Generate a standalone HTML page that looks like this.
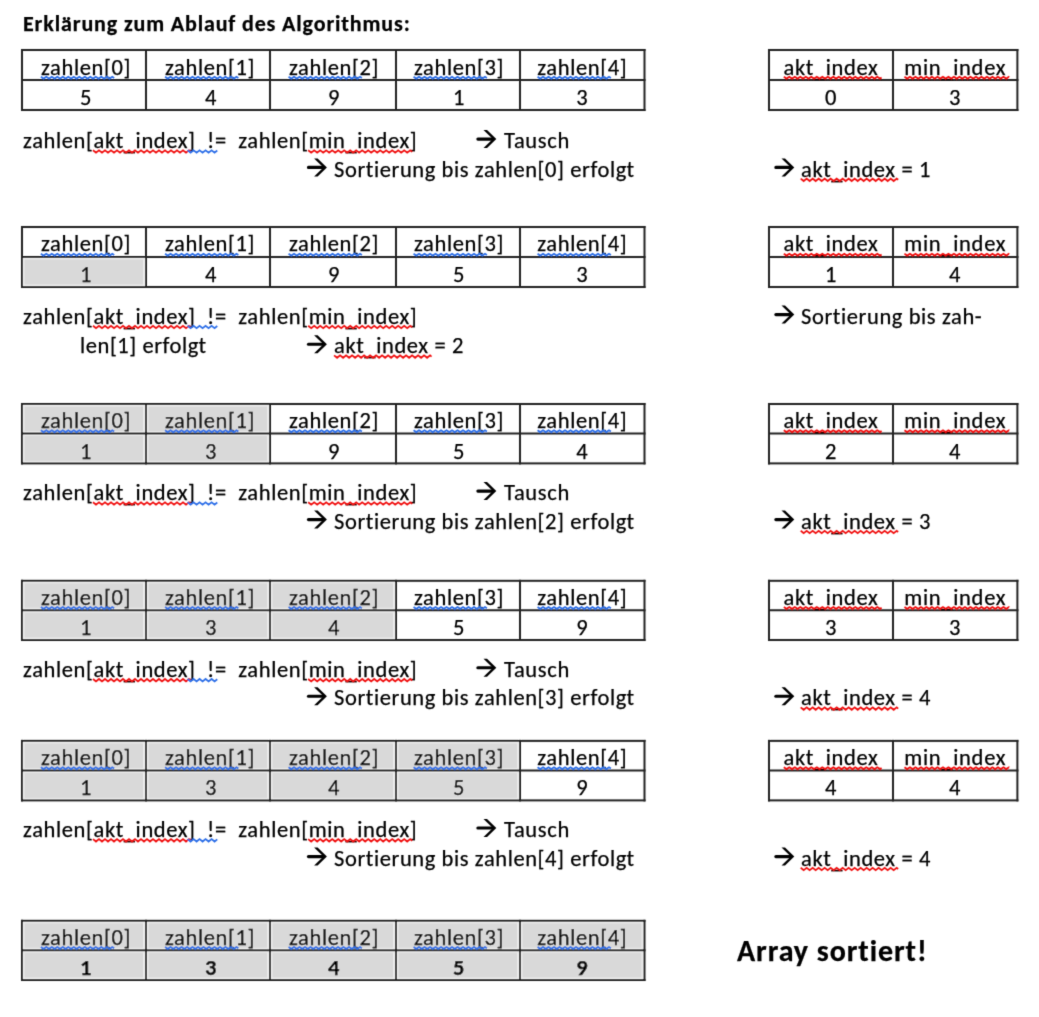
<!DOCTYPE html>
<html><head><meta charset="utf-8"><title>Erklärung zum Ablauf des Algorithmus</title>
<style>
html,body{margin:0;padding:0;background:#fff;}
body{width:1039px;height:1017px;position:relative;overflow:hidden;font-family:"Carlito", "Liberation Sans", sans-serif;font-size:22.5px;color:#000;font-variant-ligatures:none;font-feature-settings:"liga" 0,"clig" 0;}
.t{position:absolute;white-space:pre;line-height:29px;will-change:transform;-webkit-text-stroke:0.25px #000;}
.u{position:relative;top:2px;}
svg{position:absolute;left:0;top:0;}
#pg{position:absolute;left:0;top:0;width:1039px;height:1017px;filter:url(#soft);}
</style></head><body><svg width="0" height="0" style="position:absolute"><filter id="soft" x="0" y="0" width="100%" height="100%"><feConvolveMatrix order="3" kernelMatrix="0.01440 0.09120 0.01440 0.09120 0.57760 0.09120 0.01440 0.09120 0.01440" divisor="1" edgeMode="none"/></filter></svg><div id="pg">
<svg width="1039" height="1017" viewBox="0 0 1039 1017">
<rect x="21.00" y="49.00" width="2.00" height="62.00" fill="#222"/>
<rect x="145.00" y="49.00" width="2.00" height="62.00" fill="#222"/>
<rect x="269.00" y="49.00" width="2.00" height="62.00" fill="#222"/>
<rect x="395.00" y="49.00" width="2.00" height="62.00" fill="#222"/>
<rect x="519.00" y="49.00" width="2.00" height="62.00" fill="#222"/>
<rect x="643.50" y="49.00" width="2.00" height="62.00" fill="#222"/>
<rect x="21.00" y="49.00" width="624.50" height="2.00" fill="#222"/>
<rect x="21.00" y="79.00" width="624.50" height="2.00" fill="#222"/>
<rect x="21.00" y="109.00" width="624.50" height="2.00" fill="#222"/>
<rect x="768.00" y="49.00" width="2.00" height="62.00" fill="#222"/>
<rect x="892.00" y="49.00" width="2.00" height="62.00" fill="#222"/>
<rect x="1016.40" y="49.00" width="2.00" height="62.00" fill="#222"/>
<rect x="768.00" y="49.00" width="250.40" height="2.00" fill="#222"/>
<rect x="768.00" y="79.00" width="250.40" height="2.00" fill="#222"/>
<rect x="768.00" y="109.00" width="250.40" height="2.00" fill="#222"/>
<rect x="23.00" y="258.00" width="122.00" height="28.00" fill="#ebebeb"/>
<rect x="24.50" y="259.50" width="118.50" height="25.00" fill="#d9d9d9"/>
<rect x="21.00" y="226.00" width="2.00" height="62.00" fill="#222"/>
<rect x="145.00" y="226.00" width="2.00" height="62.00" fill="#222"/>
<rect x="269.00" y="226.00" width="2.00" height="62.00" fill="#222"/>
<rect x="395.00" y="226.00" width="2.00" height="62.00" fill="#222"/>
<rect x="519.00" y="226.00" width="2.00" height="62.00" fill="#222"/>
<rect x="643.50" y="226.00" width="2.00" height="62.00" fill="#222"/>
<rect x="21.00" y="226.00" width="624.50" height="2.00" fill="#222"/>
<rect x="21.00" y="256.00" width="624.50" height="2.00" fill="#222"/>
<rect x="21.00" y="286.00" width="624.50" height="2.00" fill="#222"/>
<rect x="768.00" y="226.00" width="2.00" height="62.00" fill="#222"/>
<rect x="892.00" y="226.00" width="2.00" height="62.00" fill="#222"/>
<rect x="1016.40" y="226.00" width="2.00" height="62.00" fill="#222"/>
<rect x="768.00" y="226.00" width="250.40" height="2.00" fill="#222"/>
<rect x="768.00" y="256.00" width="250.40" height="2.00" fill="#222"/>
<rect x="768.00" y="286.00" width="250.40" height="2.00" fill="#222"/>
<rect x="23.00" y="405.00" width="122.00" height="27.50" fill="#ebebeb"/>
<rect x="24.50" y="406.50" width="118.50" height="24.50" fill="#d9d9d9"/>
<rect x="147.00" y="405.00" width="122.00" height="27.50" fill="#ebebeb"/>
<rect x="148.50" y="406.50" width="118.50" height="24.50" fill="#d9d9d9"/>
<rect x="23.00" y="434.50" width="122.00" height="27.90" fill="#ebebeb"/>
<rect x="24.50" y="436.00" width="118.50" height="24.90" fill="#d9d9d9"/>
<rect x="147.00" y="434.50" width="122.00" height="27.90" fill="#ebebeb"/>
<rect x="148.50" y="436.00" width="118.50" height="24.90" fill="#d9d9d9"/>
<rect x="21.00" y="403.00" width="2.00" height="61.40" fill="#222"/>
<rect x="145.00" y="403.00" width="2.00" height="61.40" fill="#222"/>
<rect x="269.00" y="403.00" width="2.00" height="61.40" fill="#222"/>
<rect x="395.00" y="403.00" width="2.00" height="61.40" fill="#222"/>
<rect x="519.00" y="403.00" width="2.00" height="61.40" fill="#222"/>
<rect x="643.50" y="403.00" width="2.00" height="61.40" fill="#222"/>
<rect x="21.00" y="403.00" width="624.50" height="2.00" fill="#222"/>
<rect x="21.00" y="432.50" width="624.50" height="2.00" fill="#222"/>
<rect x="21.00" y="462.40" width="624.50" height="2.00" fill="#222"/>
<rect x="768.00" y="403.00" width="2.00" height="61.40" fill="#222"/>
<rect x="892.00" y="403.00" width="2.00" height="61.40" fill="#222"/>
<rect x="1016.40" y="403.00" width="2.00" height="61.40" fill="#222"/>
<rect x="768.00" y="403.00" width="250.40" height="2.00" fill="#222"/>
<rect x="768.00" y="432.50" width="250.40" height="2.00" fill="#222"/>
<rect x="768.00" y="462.40" width="250.40" height="2.00" fill="#222"/>
<rect x="23.00" y="581.80" width="122.00" height="27.45" fill="#ebebeb"/>
<rect x="24.50" y="583.30" width="118.50" height="24.45" fill="#d9d9d9"/>
<rect x="147.00" y="581.80" width="122.00" height="27.45" fill="#ebebeb"/>
<rect x="148.50" y="583.30" width="118.50" height="24.45" fill="#d9d9d9"/>
<rect x="271.00" y="581.80" width="124.00" height="27.45" fill="#ebebeb"/>
<rect x="272.50" y="583.30" width="120.50" height="24.45" fill="#d9d9d9"/>
<rect x="23.00" y="611.25" width="122.00" height="27.75" fill="#ebebeb"/>
<rect x="24.50" y="612.75" width="118.50" height="24.75" fill="#d9d9d9"/>
<rect x="147.00" y="611.25" width="122.00" height="27.75" fill="#ebebeb"/>
<rect x="148.50" y="612.75" width="118.50" height="24.75" fill="#d9d9d9"/>
<rect x="271.00" y="611.25" width="124.00" height="27.75" fill="#ebebeb"/>
<rect x="272.50" y="612.75" width="120.50" height="24.75" fill="#d9d9d9"/>
<rect x="21.00" y="579.80" width="2.00" height="61.20" fill="#222"/>
<rect x="145.00" y="579.80" width="2.00" height="61.20" fill="#222"/>
<rect x="269.00" y="579.80" width="2.00" height="61.20" fill="#222"/>
<rect x="395.00" y="579.80" width="2.00" height="61.20" fill="#222"/>
<rect x="519.00" y="579.80" width="2.00" height="61.20" fill="#222"/>
<rect x="643.50" y="579.80" width="2.00" height="61.20" fill="#222"/>
<rect x="21.00" y="579.80" width="624.50" height="2.00" fill="#222"/>
<rect x="21.00" y="609.25" width="624.50" height="2.00" fill="#222"/>
<rect x="21.00" y="639.00" width="624.50" height="2.00" fill="#222"/>
<rect x="768.00" y="579.80" width="2.00" height="61.20" fill="#222"/>
<rect x="892.00" y="579.80" width="2.00" height="61.20" fill="#222"/>
<rect x="1016.40" y="579.80" width="2.00" height="61.20" fill="#222"/>
<rect x="768.00" y="579.80" width="250.40" height="2.00" fill="#222"/>
<rect x="768.00" y="609.25" width="250.40" height="2.00" fill="#222"/>
<rect x="768.00" y="639.00" width="250.40" height="2.00" fill="#222"/>
<rect x="23.00" y="741.90" width="122.00" height="27.60" fill="#ebebeb"/>
<rect x="24.50" y="743.40" width="118.50" height="24.60" fill="#d9d9d9"/>
<rect x="147.00" y="741.90" width="122.00" height="27.60" fill="#ebebeb"/>
<rect x="148.50" y="743.40" width="118.50" height="24.60" fill="#d9d9d9"/>
<rect x="271.00" y="741.90" width="124.00" height="27.60" fill="#ebebeb"/>
<rect x="272.50" y="743.40" width="120.50" height="24.60" fill="#d9d9d9"/>
<rect x="397.00" y="741.90" width="122.00" height="27.60" fill="#ebebeb"/>
<rect x="398.50" y="743.40" width="118.50" height="24.60" fill="#d9d9d9"/>
<rect x="23.00" y="771.50" width="122.00" height="27.90" fill="#ebebeb"/>
<rect x="24.50" y="773.00" width="118.50" height="24.90" fill="#d9d9d9"/>
<rect x="147.00" y="771.50" width="122.00" height="27.90" fill="#ebebeb"/>
<rect x="148.50" y="773.00" width="118.50" height="24.90" fill="#d9d9d9"/>
<rect x="271.00" y="771.50" width="124.00" height="27.90" fill="#ebebeb"/>
<rect x="272.50" y="773.00" width="120.50" height="24.90" fill="#d9d9d9"/>
<rect x="397.00" y="771.50" width="122.00" height="27.90" fill="#ebebeb"/>
<rect x="398.50" y="773.00" width="118.50" height="24.90" fill="#d9d9d9"/>
<rect x="21.00" y="739.90" width="2.00" height="61.50" fill="#222"/>
<rect x="145.00" y="739.90" width="2.00" height="61.50" fill="#222"/>
<rect x="269.00" y="739.90" width="2.00" height="61.50" fill="#222"/>
<rect x="395.00" y="739.90" width="2.00" height="61.50" fill="#222"/>
<rect x="519.00" y="739.90" width="2.00" height="61.50" fill="#222"/>
<rect x="643.50" y="739.90" width="2.00" height="61.50" fill="#222"/>
<rect x="21.00" y="739.90" width="624.50" height="2.00" fill="#222"/>
<rect x="21.00" y="769.50" width="624.50" height="2.00" fill="#222"/>
<rect x="21.00" y="799.40" width="624.50" height="2.00" fill="#222"/>
<rect x="768.00" y="739.90" width="2.00" height="61.50" fill="#222"/>
<rect x="892.00" y="739.90" width="2.00" height="61.50" fill="#222"/>
<rect x="1016.40" y="739.90" width="2.00" height="61.50" fill="#222"/>
<rect x="768.00" y="739.90" width="250.40" height="2.00" fill="#222"/>
<rect x="768.00" y="769.50" width="250.40" height="2.00" fill="#222"/>
<rect x="768.00" y="799.40" width="250.40" height="2.00" fill="#222"/>
<rect x="23.00" y="921.80" width="122.00" height="27.45" fill="#ebebeb"/>
<rect x="24.50" y="923.30" width="118.50" height="24.45" fill="#d9d9d9"/>
<rect x="147.00" y="921.80" width="122.00" height="27.45" fill="#ebebeb"/>
<rect x="148.50" y="923.30" width="118.50" height="24.45" fill="#d9d9d9"/>
<rect x="271.00" y="921.80" width="124.00" height="27.45" fill="#ebebeb"/>
<rect x="272.50" y="923.30" width="120.50" height="24.45" fill="#d9d9d9"/>
<rect x="397.00" y="921.80" width="122.00" height="27.45" fill="#ebebeb"/>
<rect x="398.50" y="923.30" width="118.50" height="24.45" fill="#d9d9d9"/>
<rect x="521.00" y="921.80" width="122.50" height="27.45" fill="#ebebeb"/>
<rect x="522.50" y="923.30" width="119.00" height="24.45" fill="#d9d9d9"/>
<rect x="23.00" y="951.25" width="122.00" height="27.75" fill="#ebebeb"/>
<rect x="24.50" y="952.75" width="118.50" height="24.75" fill="#d9d9d9"/>
<rect x="147.00" y="951.25" width="122.00" height="27.75" fill="#ebebeb"/>
<rect x="148.50" y="952.75" width="118.50" height="24.75" fill="#d9d9d9"/>
<rect x="271.00" y="951.25" width="124.00" height="27.75" fill="#ebebeb"/>
<rect x="272.50" y="952.75" width="120.50" height="24.75" fill="#d9d9d9"/>
<rect x="397.00" y="951.25" width="122.00" height="27.75" fill="#ebebeb"/>
<rect x="398.50" y="952.75" width="118.50" height="24.75" fill="#d9d9d9"/>
<rect x="521.00" y="951.25" width="122.50" height="27.75" fill="#ebebeb"/>
<rect x="522.50" y="952.75" width="119.00" height="24.75" fill="#d9d9d9"/>
<rect x="21.00" y="919.80" width="2.00" height="61.20" fill="#222"/>
<rect x="145.00" y="919.80" width="2.00" height="61.20" fill="#222"/>
<rect x="269.00" y="919.80" width="2.00" height="61.20" fill="#222"/>
<rect x="395.00" y="919.80" width="2.00" height="61.20" fill="#222"/>
<rect x="519.00" y="919.80" width="2.00" height="61.20" fill="#222"/>
<rect x="643.50" y="919.80" width="2.00" height="61.20" fill="#222"/>
<rect x="21.00" y="919.80" width="624.50" height="2.00" fill="#222"/>
<rect x="21.00" y="949.25" width="624.50" height="2.00" fill="#222"/>
<rect x="21.00" y="979.00" width="624.50" height="2.00" fill="#222"/>
<path d="M477.85 137.55 H493.30 V140.65 H477.85 A1.55 1.55 0 0 1 477.85 137.55 Z" fill="#000"/>
<polygon points="483.50,130.10 487.00,130.10 496.30,139.10 487.00,148.10 483.50,148.10 492.80,139.10" fill="#000"/>
<path d="M308.45 165.85 H323.90 V168.95 H308.45 A1.55 1.55 0 0 1 308.45 165.85 Z" fill="#000"/>
<polygon points="314.10,158.40 317.60,158.40 326.90,167.40 317.60,176.40 314.10,176.40 323.40,167.40" fill="#000"/>
<path d="M775.85 165.85 H791.30 V168.95 H775.85 A1.55 1.55 0 0 1 775.85 165.85 Z" fill="#000"/>
<polygon points="781.50,158.40 785.00,158.40 794.30,167.40 785.00,176.40 781.50,176.40 790.80,167.40" fill="#000"/>
<path d="M775.85 313.05 H791.30 V316.15 H775.85 A1.55 1.55 0 0 1 775.85 313.05 Z" fill="#000"/>
<polygon points="781.50,305.60 785.00,305.60 794.30,314.60 785.00,323.60 781.50,323.60 790.80,314.60" fill="#000"/>
<path d="M308.45 342.65 H323.90 V345.75 H308.45 A1.55 1.55 0 0 1 308.45 342.65 Z" fill="#000"/>
<polygon points="314.10,335.20 317.60,335.20 326.90,344.20 317.60,353.20 314.10,353.20 323.40,344.20" fill="#000"/>
<path d="M477.85 489.55 H493.30 V492.65 H477.85 A1.55 1.55 0 0 1 477.85 489.55 Z" fill="#000"/>
<polygon points="483.50,482.10 487.00,482.10 496.30,491.10 487.00,500.10 483.50,500.10 492.80,491.10" fill="#000"/>
<path d="M308.45 518.05 H323.90 V521.15 H308.45 A1.55 1.55 0 0 1 308.45 518.05 Z" fill="#000"/>
<polygon points="314.10,510.60 317.60,510.60 326.90,519.60 317.60,528.60 314.10,528.60 323.40,519.60" fill="#000"/>
<path d="M775.85 518.05 H791.30 V521.15 H775.85 A1.55 1.55 0 0 1 775.85 518.05 Z" fill="#000"/>
<polygon points="781.50,510.60 785.00,510.60 794.30,519.60 785.00,528.60 781.50,528.60 790.80,519.60" fill="#000"/>
<path d="M477.85 666.25 H493.30 V669.35 H477.85 A1.55 1.55 0 0 1 477.85 666.25 Z" fill="#000"/>
<polygon points="483.50,658.80 487.00,658.80 496.30,667.80 487.00,676.80 483.50,676.80 492.80,667.80" fill="#000"/>
<path d="M308.45 694.65 H323.90 V697.75 H308.45 A1.55 1.55 0 0 1 308.45 694.65 Z" fill="#000"/>
<polygon points="314.10,687.20 317.60,687.20 326.90,696.20 317.60,705.20 314.10,705.20 323.40,696.20" fill="#000"/>
<path d="M775.85 694.65 H791.30 V697.75 H775.85 A1.55 1.55 0 0 1 775.85 694.65 Z" fill="#000"/>
<polygon points="781.50,687.20 785.00,687.20 794.30,696.20 785.00,705.20 781.50,705.20 790.80,696.20" fill="#000"/>
<path d="M477.85 826.40 H493.30 V829.50 H477.85 A1.55 1.55 0 0 1 477.85 826.40 Z" fill="#000"/>
<polygon points="483.50,818.95 487.00,818.95 496.30,827.95 487.00,836.95 483.50,836.95 492.80,827.95" fill="#000"/>
<path d="M308.45 855.05 H323.90 V858.15 H308.45 A1.55 1.55 0 0 1 308.45 855.05 Z" fill="#000"/>
<polygon points="314.10,847.60 317.60,847.60 326.90,856.60 317.60,865.60 314.10,865.60 323.40,856.60" fill="#000"/>
<path d="M775.85 855.05 H791.30 V858.15 H775.85 A1.55 1.55 0 0 1 775.85 855.05 Z" fill="#000"/>
<polygon points="781.50,847.60 785.00,847.60 794.30,856.60 785.00,865.60 781.50,865.60 790.80,856.60" fill="#000"/>
</svg>
<div class="t" style="left:23.00px;top:9.00px;font-size:22px;line-height:29px;font-weight:bold;letter-spacing:0.873px;--w:387.58;">Erklärung zum Ablauf des Algorithmus:</div>
<div class="t" style="left:23.90px;top:53.00px;width:124.00px;text-align:center;letter-spacing:0.625px;--w:90.14;"><span class="sqh b">zahlen[</span>0]</div>
<div class="t" style="left:24.10px;top:83.00px;width:124.00px;text-align:center;letter-spacing:0.766px;--w:12.17;">5</div>
<div class="t" style="left:148.10px;top:53.00px;width:124.00px;text-align:center;letter-spacing:0.625px;--w:90.14;"><span class="sqh b">zahlen[</span>1]</div>
<div class="t" style="left:148.50px;top:83.00px;width:124.00px;text-align:center;letter-spacing:0.766px;--w:12.17;">4</div>
<div class="t" style="left:270.60px;top:53.00px;width:126.00px;text-align:center;letter-spacing:0.625px;--w:90.14;"><span class="sqh b">zahlen[</span>2]</div>
<div class="t" style="left:270.60px;top:83.00px;width:126.00px;text-align:center;letter-spacing:0.766px;--w:12.17;">9</div>
<div class="t" style="left:396.60px;top:53.00px;width:124.00px;text-align:center;letter-spacing:0.625px;--w:90.14;"><span class="sqh b">zahlen[</span>3]</div>
<div class="t" style="left:396.80px;top:83.00px;width:124.00px;text-align:center;letter-spacing:0.766px;--w:12.17;">1</div>
<div class="t" style="left:520.35px;top:53.00px;width:124.50px;text-align:center;letter-spacing:0.625px;--w:90.14;"><span class="sqh b">zahlen[</span>4]</div>
<div class="t" style="left:519.95px;top:83.00px;width:124.50px;text-align:center;letter-spacing:0.766px;--w:12.17;">3</div>
<div class="t" style="left:769.30px;top:53.00px;width:124.00px;text-align:center;letter-spacing:0.658px;--w:94.98;"><span class="sqh r">akt<span class=u>_</span>index</span></div>
<div class="t" style="left:769.30px;top:83.00px;width:124.00px;text-align:center;letter-spacing:0.766px;--w:12.17;">0</div>
<div class="t" style="left:893.25px;top:53.00px;width:124.40px;text-align:center;letter-spacing:0.707px;--w:101.95;"><span class="sqh r">min<span class=u>_</span>index</span></div>
<div class="t" style="left:893.25px;top:83.00px;width:124.40px;text-align:center;letter-spacing:0.766px;--w:12.17;">3</div>
<div class="t" style="left:23.90px;top:229.00px;width:124.00px;text-align:center;letter-spacing:0.625px;--w:90.14;"><span class="sqh b">zahlen[</span>0]</div>
<div class="t" style="left:24.10px;top:260.00px;width:124.00px;text-align:center;letter-spacing:0.766px;--w:12.17;">1</div>
<div class="t" style="left:148.10px;top:229.00px;width:124.00px;text-align:center;letter-spacing:0.625px;--w:90.14;"><span class="sqh b">zahlen[</span>1]</div>
<div class="t" style="left:148.50px;top:260.00px;width:124.00px;text-align:center;letter-spacing:0.766px;--w:12.17;">4</div>
<div class="t" style="left:270.60px;top:229.00px;width:126.00px;text-align:center;letter-spacing:0.625px;--w:90.14;"><span class="sqh b">zahlen[</span>2]</div>
<div class="t" style="left:270.60px;top:260.00px;width:126.00px;text-align:center;letter-spacing:0.766px;--w:12.17;">9</div>
<div class="t" style="left:396.60px;top:229.00px;width:124.00px;text-align:center;letter-spacing:0.625px;--w:90.14;"><span class="sqh b">zahlen[</span>3]</div>
<div class="t" style="left:396.80px;top:260.00px;width:124.00px;text-align:center;letter-spacing:0.766px;--w:12.17;">5</div>
<div class="t" style="left:520.35px;top:229.00px;width:124.50px;text-align:center;letter-spacing:0.625px;--w:90.14;"><span class="sqh b">zahlen[</span>4]</div>
<div class="t" style="left:519.95px;top:260.00px;width:124.50px;text-align:center;letter-spacing:0.766px;--w:12.17;">3</div>
<div class="t" style="left:769.30px;top:229.00px;width:124.00px;text-align:center;letter-spacing:0.658px;--w:94.98;"><span class="sqh r">akt<span class=u>_</span>index</span></div>
<div class="t" style="left:769.30px;top:260.00px;width:124.00px;text-align:center;letter-spacing:0.766px;--w:12.17;">1</div>
<div class="t" style="left:893.25px;top:229.00px;width:124.40px;text-align:center;letter-spacing:0.707px;--w:101.95;"><span class="sqh r">min<span class=u>_</span>index</span></div>
<div class="t" style="left:893.25px;top:260.00px;width:124.40px;text-align:center;letter-spacing:0.766px;--w:12.17;">4</div>
<div class="t" style="left:23.90px;top:406.00px;width:124.00px;text-align:center;letter-spacing:0.625px;--w:90.14;"><span class="sqh b">zahlen[</span>0]</div>
<div class="t" style="left:24.10px;top:437.00px;width:124.00px;text-align:center;letter-spacing:0.766px;--w:12.17;">1</div>
<div class="t" style="left:148.10px;top:406.00px;width:124.00px;text-align:center;letter-spacing:0.625px;--w:90.14;"><span class="sqh b">zahlen[</span>1]</div>
<div class="t" style="left:148.50px;top:437.00px;width:124.00px;text-align:center;letter-spacing:0.766px;--w:12.17;">3</div>
<div class="t" style="left:270.60px;top:406.00px;width:126.00px;text-align:center;letter-spacing:0.625px;--w:90.14;"><span class="sqh b">zahlen[</span>2]</div>
<div class="t" style="left:270.60px;top:437.00px;width:126.00px;text-align:center;letter-spacing:0.766px;--w:12.17;">9</div>
<div class="t" style="left:396.60px;top:406.00px;width:124.00px;text-align:center;letter-spacing:0.625px;--w:90.14;"><span class="sqh b">zahlen[</span>3]</div>
<div class="t" style="left:396.80px;top:437.00px;width:124.00px;text-align:center;letter-spacing:0.766px;--w:12.17;">5</div>
<div class="t" style="left:520.35px;top:406.00px;width:124.50px;text-align:center;letter-spacing:0.625px;--w:90.14;"><span class="sqh b">zahlen[</span>4]</div>
<div class="t" style="left:519.95px;top:437.00px;width:124.50px;text-align:center;letter-spacing:0.766px;--w:12.17;">4</div>
<div class="t" style="left:769.30px;top:406.00px;width:124.00px;text-align:center;letter-spacing:0.658px;--w:94.98;"><span class="sqh r">akt<span class=u>_</span>index</span></div>
<div class="t" style="left:769.30px;top:437.00px;width:124.00px;text-align:center;letter-spacing:0.766px;--w:12.17;">2</div>
<div class="t" style="left:893.25px;top:406.00px;width:124.40px;text-align:center;letter-spacing:0.707px;--w:101.95;"><span class="sqh r">min<span class=u>_</span>index</span></div>
<div class="t" style="left:893.25px;top:437.00px;width:124.40px;text-align:center;letter-spacing:0.766px;--w:12.17;">4</div>
<div class="t" style="left:23.90px;top:583.00px;width:124.00px;text-align:center;letter-spacing:0.625px;--w:90.14;"><span class="sqh b">zahlen[</span>0]</div>
<div class="t" style="left:24.10px;top:613.00px;width:124.00px;text-align:center;letter-spacing:0.766px;--w:12.17;">1</div>
<div class="t" style="left:148.10px;top:583.00px;width:124.00px;text-align:center;letter-spacing:0.625px;--w:90.14;"><span class="sqh b">zahlen[</span>1]</div>
<div class="t" style="left:148.50px;top:613.00px;width:124.00px;text-align:center;letter-spacing:0.766px;--w:12.17;">3</div>
<div class="t" style="left:270.60px;top:583.00px;width:126.00px;text-align:center;letter-spacing:0.625px;--w:90.14;"><span class="sqh b">zahlen[</span>2]</div>
<div class="t" style="left:270.60px;top:613.00px;width:126.00px;text-align:center;letter-spacing:0.766px;--w:12.17;">4</div>
<div class="t" style="left:396.60px;top:583.00px;width:124.00px;text-align:center;letter-spacing:0.625px;--w:90.14;"><span class="sqh b">zahlen[</span>3]</div>
<div class="t" style="left:396.80px;top:613.00px;width:124.00px;text-align:center;letter-spacing:0.766px;--w:12.17;">5</div>
<div class="t" style="left:520.35px;top:583.00px;width:124.50px;text-align:center;letter-spacing:0.625px;--w:90.14;"><span class="sqh b">zahlen[</span>4]</div>
<div class="t" style="left:519.95px;top:613.00px;width:124.50px;text-align:center;letter-spacing:0.766px;--w:12.17;">9</div>
<div class="t" style="left:769.30px;top:583.00px;width:124.00px;text-align:center;letter-spacing:0.658px;--w:94.98;"><span class="sqh r">akt<span class=u>_</span>index</span></div>
<div class="t" style="left:769.30px;top:613.00px;width:124.00px;text-align:center;letter-spacing:0.766px;--w:12.17;">3</div>
<div class="t" style="left:893.25px;top:583.00px;width:124.40px;text-align:center;letter-spacing:0.707px;--w:101.95;"><span class="sqh r">min<span class=u>_</span>index</span></div>
<div class="t" style="left:893.25px;top:613.00px;width:124.40px;text-align:center;letter-spacing:0.766px;--w:12.17;">3</div>
<div class="t" style="left:23.90px;top:743.00px;width:124.00px;text-align:center;letter-spacing:0.625px;--w:90.14;"><span class="sqh b">zahlen[</span>0]</div>
<div class="t" style="left:24.10px;top:773.00px;width:124.00px;text-align:center;letter-spacing:0.766px;--w:12.17;">1</div>
<div class="t" style="left:148.10px;top:743.00px;width:124.00px;text-align:center;letter-spacing:0.625px;--w:90.14;"><span class="sqh b">zahlen[</span>1]</div>
<div class="t" style="left:148.50px;top:773.00px;width:124.00px;text-align:center;letter-spacing:0.766px;--w:12.17;">3</div>
<div class="t" style="left:270.60px;top:743.00px;width:126.00px;text-align:center;letter-spacing:0.625px;--w:90.14;"><span class="sqh b">zahlen[</span>2]</div>
<div class="t" style="left:270.60px;top:773.00px;width:126.00px;text-align:center;letter-spacing:0.766px;--w:12.17;">4</div>
<div class="t" style="left:396.60px;top:743.00px;width:124.00px;text-align:center;letter-spacing:0.625px;--w:90.14;"><span class="sqh b">zahlen[</span>3]</div>
<div class="t" style="left:396.80px;top:773.00px;width:124.00px;text-align:center;letter-spacing:0.766px;--w:12.17;">5</div>
<div class="t" style="left:520.35px;top:743.00px;width:124.50px;text-align:center;letter-spacing:0.625px;--w:90.14;"><span class="sqh b">zahlen[</span>4]</div>
<div class="t" style="left:519.95px;top:773.00px;width:124.50px;text-align:center;letter-spacing:0.766px;--w:12.17;">9</div>
<div class="t" style="left:769.30px;top:743.00px;width:124.00px;text-align:center;letter-spacing:0.658px;--w:94.98;"><span class="sqh r">akt<span class=u>_</span>index</span></div>
<div class="t" style="left:769.30px;top:773.00px;width:124.00px;text-align:center;letter-spacing:0.766px;--w:12.17;">4</div>
<div class="t" style="left:893.25px;top:743.00px;width:124.40px;text-align:center;letter-spacing:0.707px;--w:101.95;"><span class="sqh r">min<span class=u>_</span>index</span></div>
<div class="t" style="left:893.25px;top:773.00px;width:124.40px;text-align:center;letter-spacing:0.766px;--w:12.17;">4</div>
<div class="t" style="left:23.90px;top:923.00px;width:124.00px;text-align:center;letter-spacing:0.625px;--w:90.14;"><span class="sqh b">zahlen[</span>0]</div>
<div class="t" style="left:24.10px;top:953.00px;font-weight:bold;width:124.00px;text-align:center;letter-spacing:0.766px;--w:12.17;">1</div>
<div class="t" style="left:148.10px;top:923.00px;width:124.00px;text-align:center;letter-spacing:0.625px;--w:90.14;"><span class="sqh b">zahlen[</span>1]</div>
<div class="t" style="left:148.50px;top:953.00px;font-weight:bold;width:124.00px;text-align:center;letter-spacing:0.766px;--w:12.17;">3</div>
<div class="t" style="left:270.60px;top:923.00px;width:126.00px;text-align:center;letter-spacing:0.625px;--w:90.14;"><span class="sqh b">zahlen[</span>2]</div>
<div class="t" style="left:270.60px;top:953.00px;font-weight:bold;width:126.00px;text-align:center;letter-spacing:0.766px;--w:12.17;">4</div>
<div class="t" style="left:396.60px;top:923.00px;width:124.00px;text-align:center;letter-spacing:0.625px;--w:90.14;"><span class="sqh b">zahlen[</span>3]</div>
<div class="t" style="left:396.80px;top:953.00px;font-weight:bold;width:124.00px;text-align:center;letter-spacing:0.766px;--w:12.17;">5</div>
<div class="t" style="left:520.35px;top:923.00px;width:124.50px;text-align:center;letter-spacing:0.625px;--w:90.14;"><span class="sqh b">zahlen[</span>4]</div>
<div class="t" style="left:519.95px;top:953.00px;font-weight:bold;width:124.50px;text-align:center;letter-spacing:0.766px;--w:12.17;">9</div>
<div class="t" style="left:22.50px;top:126.00px;letter-spacing:0.615px;--w:394.36;">zahlen[<span class="sq r">akt<span class=u>_</span>index</span><span class="sq b">]  !</span>=  zahlen[<span class="sq r">min<span class=u>_</span>index</span>]</div>
<div class="t" style="left:504.20px;top:126.00px;letter-spacing:0.688px;--w:66.08;">Tausch</div>
<div class="t" style="left:334.10px;top:155.00px;letter-spacing:0.587px;--w:300.61;">Sortierung bis zahlen[0] erfolgt</div>
<div class="t" style="left:800.70px;top:155.00px;letter-spacing:0.623px;--w:129.95;"><span class="sq r">akt<span class=u>_</span>index</span> = 1</div>
<div class="t" style="left:22.50px;top:302.00px;letter-spacing:0.615px;--w:394.36;">zahlen[<span class="sq r">akt<span class=u>_</span>index</span><span class="sq b">]  !</span>=  zahlen[<span class="sq r">min<span class=u>_</span>index</span>]</div>
<div class="t" style="left:800.70px;top:302.00px;letter-spacing:0.596px;--w:181.31;">Sortierung bis zah-</div>
<div class="t" style="left:79.50px;top:331.00px;letter-spacing:0.566px;--w:126.64;">len[1] erfolgt</div>
<div class="t" style="left:334.10px;top:331.00px;letter-spacing:0.623px;--w:129.95;"><span class="sq r">akt<span class=u>_</span>index</span> = 2</div>
<div class="t" style="left:22.50px;top:478.00px;letter-spacing:0.615px;--w:394.36;">zahlen[<span class="sq r">akt<span class=u>_</span>index</span><span class="sq b">]  !</span>=  zahlen[<span class="sq r">min<span class=u>_</span>index</span>]</div>
<div class="t" style="left:504.20px;top:478.00px;letter-spacing:0.688px;--w:66.08;">Tausch</div>
<div class="t" style="left:334.10px;top:507.00px;letter-spacing:0.587px;--w:300.61;">Sortierung bis zahlen[2] erfolgt</div>
<div class="t" style="left:800.70px;top:507.00px;letter-spacing:0.623px;--w:129.95;"><span class="sq r">akt<span class=u>_</span>index</span> = 3</div>
<div class="t" style="left:22.50px;top:655.00px;letter-spacing:0.615px;--w:394.36;">zahlen[<span class="sq r">akt<span class=u>_</span>index</span><span class="sq b">]  !</span>=  zahlen[<span class="sq r">min<span class=u>_</span>index</span>]</div>
<div class="t" style="left:504.20px;top:655.00px;letter-spacing:0.688px;--w:66.08;">Tausch</div>
<div class="t" style="left:334.10px;top:683.00px;letter-spacing:0.587px;--w:300.61;">Sortierung bis zahlen[3] erfolgt</div>
<div class="t" style="left:800.70px;top:683.00px;letter-spacing:0.623px;--w:129.95;"><span class="sq r">akt<span class=u>_</span>index</span> = 4</div>
<div class="t" style="left:22.50px;top:815.00px;letter-spacing:0.615px;--w:394.36;">zahlen[<span class="sq r">akt<span class=u>_</span>index</span><span class="sq b">]  !</span>=  zahlen[<span class="sq r">min<span class=u>_</span>index</span>]</div>
<div class="t" style="left:504.20px;top:815.00px;letter-spacing:0.688px;--w:66.08;">Tausch</div>
<div class="t" style="left:334.10px;top:844.00px;letter-spacing:0.587px;--w:300.61;">Sortierung bis zahlen[4] erfolgt</div>
<div class="t" style="left:800.70px;top:844.00px;letter-spacing:0.623px;--w:129.95;"><span class="sq r">akt<span class=u>_</span>index</span> = 4</div>
<div class="t" style="left:736.50px;top:932.00px;font-size:30px;line-height:37px;font-weight:bold;letter-spacing:0.939px;--w:190.66;">Array sortiert!</div>
<svg width="1039" height="1017" viewBox="0 0 1039 1017">
<polyline points="40.81,76.80 43.56,78.60 46.31,76.80 49.06,78.60 51.81,76.80 54.56,78.60 57.31,76.80 60.06,78.60 62.81,76.80 65.56,78.60 68.31,76.80 71.06,78.60 73.81,76.80 76.56,78.60 79.31,76.80 82.06,78.60 84.81,76.80 87.56,78.60 90.31,76.80 93.06,78.60 95.81,76.80 98.56,78.60 101.31,76.80 104.06,78.60 106.81,76.80 109.56,78.60 112.31,76.80 114.19,78.03" fill="none" stroke="#2f6fe8" stroke-width="1.8"/>
<polyline points="165.02,76.80 167.77,78.60 170.52,76.80 173.27,78.60 176.02,76.80 178.77,78.60 181.52,76.80 184.27,78.60 187.02,76.80 189.77,78.60 192.52,76.80 195.27,78.60 198.02,76.80 200.77,78.60 203.52,76.80 206.27,78.60 209.02,76.80 211.77,78.60 214.52,76.80 217.27,78.60 220.02,76.80 222.77,78.60 225.52,76.80 228.27,78.60 231.02,76.80 233.77,78.60 236.52,76.80 238.39,78.03" fill="none" stroke="#2f6fe8" stroke-width="1.8"/>
<polyline points="288.52,76.80 291.27,78.60 294.02,76.80 296.77,78.60 299.52,76.80 302.27,78.60 305.02,76.80 307.77,78.60 310.52,76.80 313.27,78.60 316.02,76.80 318.77,78.60 321.52,76.80 324.27,78.60 327.02,76.80 329.77,78.60 332.52,76.80 335.27,78.60 338.02,76.80 340.77,78.60 343.52,76.80 346.27,78.60 349.02,76.80 351.77,78.60 354.52,76.80 357.27,78.60 360.02,76.80 361.89,78.03" fill="none" stroke="#2f6fe8" stroke-width="1.8"/>
<polyline points="413.52,76.80 416.27,78.60 419.02,76.80 421.77,78.60 424.52,76.80 427.27,78.60 430.02,76.80 432.77,78.60 435.52,76.80 438.27,78.60 441.02,76.80 443.77,78.60 446.52,76.80 449.27,78.60 452.02,76.80 454.77,78.60 457.52,76.80 460.27,78.60 463.02,76.80 465.77,78.60 468.52,76.80 471.27,78.60 474.02,76.80 476.77,78.60 479.52,76.80 482.27,78.60 485.02,76.80 486.89,78.03" fill="none" stroke="#2f6fe8" stroke-width="1.8"/>
<polyline points="537.52,76.80 540.27,78.60 543.02,76.80 545.77,78.60 548.52,76.80 551.27,78.60 554.02,76.80 556.77,78.60 559.52,76.80 562.27,78.60 565.02,76.80 567.77,78.60 570.52,76.80 573.27,78.60 576.02,76.80 578.77,78.60 581.52,76.80 584.27,78.60 587.02,76.80 589.77,78.60 592.52,76.80 595.27,78.60 598.02,76.80 600.77,78.60 603.52,76.80 606.27,78.60 609.02,76.80 610.89,78.03" fill="none" stroke="#2f6fe8" stroke-width="1.8"/>
<polyline points="783.80,76.80 786.55,78.60 789.30,76.80 792.05,78.60 794.80,76.80 797.55,78.60 800.30,76.80 803.05,78.60 805.80,76.80 808.55,78.60 811.30,76.80 814.05,78.60 816.80,76.80 819.55,78.60 822.30,76.80 825.05,78.60 827.80,76.80 830.55,78.60 833.30,76.80 836.05,78.60 838.80,76.80 841.55,78.60 844.30,76.80 847.05,78.60 849.80,76.80 852.55,78.60 855.30,76.80 858.05,78.60 860.80,76.80 863.55,78.60 866.30,76.80 869.05,78.60 871.80,76.80 874.55,78.60 877.30,76.80 880.05,78.60 881.60,77.59" fill="none" stroke="#f01010" stroke-width="1.8"/>
<polyline points="904.45,76.80 907.20,78.60 909.95,76.80 912.70,78.60 915.45,76.80 918.20,78.60 920.95,76.80 923.70,78.60 926.45,76.80 929.20,78.60 931.95,76.80 934.70,78.60 937.45,76.80 940.20,78.60 942.95,76.80 945.70,78.60 948.45,76.80 951.20,78.60 953.95,76.80 956.70,78.60 959.45,76.80 962.20,78.60 964.95,76.80 967.70,78.60 970.45,76.80 973.20,78.60 975.95,76.80 978.70,78.60 981.45,76.80 984.20,78.60 986.95,76.80 989.70,78.60 992.45,76.80 995.20,78.60 997.95,76.80 1000.70,78.60 1003.45,76.80 1006.20,78.60 1008.95,76.80 1009.22,76.98" fill="none" stroke="#f01010" stroke-width="1.8"/>
<polyline points="40.81,253.80 43.56,255.60 46.31,253.80 49.06,255.60 51.81,253.80 54.56,255.60 57.31,253.80 60.06,255.60 62.81,253.80 65.56,255.60 68.31,253.80 71.06,255.60 73.81,253.80 76.56,255.60 79.31,253.80 82.06,255.60 84.81,253.80 87.56,255.60 90.31,253.80 93.06,255.60 95.81,253.80 98.56,255.60 101.31,253.80 104.06,255.60 106.81,253.80 109.56,255.60 112.31,253.80 114.19,255.03" fill="none" stroke="#2f6fe8" stroke-width="1.8"/>
<polyline points="165.02,253.80 167.77,255.60 170.52,253.80 173.27,255.60 176.02,253.80 178.77,255.60 181.52,253.80 184.27,255.60 187.02,253.80 189.77,255.60 192.52,253.80 195.27,255.60 198.02,253.80 200.77,255.60 203.52,253.80 206.27,255.60 209.02,253.80 211.77,255.60 214.52,253.80 217.27,255.60 220.02,253.80 222.77,255.60 225.52,253.80 228.27,255.60 231.02,253.80 233.77,255.60 236.52,253.80 238.39,255.03" fill="none" stroke="#2f6fe8" stroke-width="1.8"/>
<polyline points="288.52,253.80 291.27,255.60 294.02,253.80 296.77,255.60 299.52,253.80 302.27,255.60 305.02,253.80 307.77,255.60 310.52,253.80 313.27,255.60 316.02,253.80 318.77,255.60 321.52,253.80 324.27,255.60 327.02,253.80 329.77,255.60 332.52,253.80 335.27,255.60 338.02,253.80 340.77,255.60 343.52,253.80 346.27,255.60 349.02,253.80 351.77,255.60 354.52,253.80 357.27,255.60 360.02,253.80 361.89,255.03" fill="none" stroke="#2f6fe8" stroke-width="1.8"/>
<polyline points="413.52,253.80 416.27,255.60 419.02,253.80 421.77,255.60 424.52,253.80 427.27,255.60 430.02,253.80 432.77,255.60 435.52,253.80 438.27,255.60 441.02,253.80 443.77,255.60 446.52,253.80 449.27,255.60 452.02,253.80 454.77,255.60 457.52,253.80 460.27,255.60 463.02,253.80 465.77,255.60 468.52,253.80 471.27,255.60 474.02,253.80 476.77,255.60 479.52,253.80 482.27,255.60 485.02,253.80 486.89,255.03" fill="none" stroke="#2f6fe8" stroke-width="1.8"/>
<polyline points="537.52,253.80 540.27,255.60 543.02,253.80 545.77,255.60 548.52,253.80 551.27,255.60 554.02,253.80 556.77,255.60 559.52,253.80 562.27,255.60 565.02,253.80 567.77,255.60 570.52,253.80 573.27,255.60 576.02,253.80 578.77,255.60 581.52,253.80 584.27,255.60 587.02,253.80 589.77,255.60 592.52,253.80 595.27,255.60 598.02,253.80 600.77,255.60 603.52,253.80 606.27,255.60 609.02,253.80 610.89,255.03" fill="none" stroke="#2f6fe8" stroke-width="1.8"/>
<polyline points="783.80,253.80 786.55,255.60 789.30,253.80 792.05,255.60 794.80,253.80 797.55,255.60 800.30,253.80 803.05,255.60 805.80,253.80 808.55,255.60 811.30,253.80 814.05,255.60 816.80,253.80 819.55,255.60 822.30,253.80 825.05,255.60 827.80,253.80 830.55,255.60 833.30,253.80 836.05,255.60 838.80,253.80 841.55,255.60 844.30,253.80 847.05,255.60 849.80,253.80 852.55,255.60 855.30,253.80 858.05,255.60 860.80,253.80 863.55,255.60 866.30,253.80 869.05,255.60 871.80,253.80 874.55,255.60 877.30,253.80 880.05,255.60 881.60,254.59" fill="none" stroke="#f01010" stroke-width="1.8"/>
<polyline points="904.45,253.80 907.20,255.60 909.95,253.80 912.70,255.60 915.45,253.80 918.20,255.60 920.95,253.80 923.70,255.60 926.45,253.80 929.20,255.60 931.95,253.80 934.70,255.60 937.45,253.80 940.20,255.60 942.95,253.80 945.70,255.60 948.45,253.80 951.20,255.60 953.95,253.80 956.70,255.60 959.45,253.80 962.20,255.60 964.95,253.80 967.70,255.60 970.45,253.80 973.20,255.60 975.95,253.80 978.70,255.60 981.45,253.80 984.20,255.60 986.95,253.80 989.70,255.60 992.45,253.80 995.20,255.60 997.95,253.80 1000.70,255.60 1003.45,253.80 1006.20,255.60 1008.95,253.80 1009.22,253.98" fill="none" stroke="#f01010" stroke-width="1.8"/>
<polyline points="40.81,430.30 43.56,432.10 46.31,430.30 49.06,432.10 51.81,430.30 54.56,432.10 57.31,430.30 60.06,432.10 62.81,430.30 65.56,432.10 68.31,430.30 71.06,432.10 73.81,430.30 76.56,432.10 79.31,430.30 82.06,432.10 84.81,430.30 87.56,432.10 90.31,430.30 93.06,432.10 95.81,430.30 98.56,432.10 101.31,430.30 104.06,432.10 106.81,430.30 109.56,432.10 112.31,430.30 114.19,431.53" fill="none" stroke="#2f6fe8" stroke-width="1.8"/>
<polyline points="165.02,430.30 167.77,432.10 170.52,430.30 173.27,432.10 176.02,430.30 178.77,432.10 181.52,430.30 184.27,432.10 187.02,430.30 189.77,432.10 192.52,430.30 195.27,432.10 198.02,430.30 200.77,432.10 203.52,430.30 206.27,432.10 209.02,430.30 211.77,432.10 214.52,430.30 217.27,432.10 220.02,430.30 222.77,432.10 225.52,430.30 228.27,432.10 231.02,430.30 233.77,432.10 236.52,430.30 238.39,431.53" fill="none" stroke="#2f6fe8" stroke-width="1.8"/>
<polyline points="288.52,430.30 291.27,432.10 294.02,430.30 296.77,432.10 299.52,430.30 302.27,432.10 305.02,430.30 307.77,432.10 310.52,430.30 313.27,432.10 316.02,430.30 318.77,432.10 321.52,430.30 324.27,432.10 327.02,430.30 329.77,432.10 332.52,430.30 335.27,432.10 338.02,430.30 340.77,432.10 343.52,430.30 346.27,432.10 349.02,430.30 351.77,432.10 354.52,430.30 357.27,432.10 360.02,430.30 361.89,431.53" fill="none" stroke="#2f6fe8" stroke-width="1.8"/>
<polyline points="413.52,430.30 416.27,432.10 419.02,430.30 421.77,432.10 424.52,430.30 427.27,432.10 430.02,430.30 432.77,432.10 435.52,430.30 438.27,432.10 441.02,430.30 443.77,432.10 446.52,430.30 449.27,432.10 452.02,430.30 454.77,432.10 457.52,430.30 460.27,432.10 463.02,430.30 465.77,432.10 468.52,430.30 471.27,432.10 474.02,430.30 476.77,432.10 479.52,430.30 482.27,432.10 485.02,430.30 486.89,431.53" fill="none" stroke="#2f6fe8" stroke-width="1.8"/>
<polyline points="537.52,430.30 540.27,432.10 543.02,430.30 545.77,432.10 548.52,430.30 551.27,432.10 554.02,430.30 556.77,432.10 559.52,430.30 562.27,432.10 565.02,430.30 567.77,432.10 570.52,430.30 573.27,432.10 576.02,430.30 578.77,432.10 581.52,430.30 584.27,432.10 587.02,430.30 589.77,432.10 592.52,430.30 595.27,432.10 598.02,430.30 600.77,432.10 603.52,430.30 606.27,432.10 609.02,430.30 610.89,431.53" fill="none" stroke="#2f6fe8" stroke-width="1.8"/>
<polyline points="783.80,430.30 786.55,432.10 789.30,430.30 792.05,432.10 794.80,430.30 797.55,432.10 800.30,430.30 803.05,432.10 805.80,430.30 808.55,432.10 811.30,430.30 814.05,432.10 816.80,430.30 819.55,432.10 822.30,430.30 825.05,432.10 827.80,430.30 830.55,432.10 833.30,430.30 836.05,432.10 838.80,430.30 841.55,432.10 844.30,430.30 847.05,432.10 849.80,430.30 852.55,432.10 855.30,430.30 858.05,432.10 860.80,430.30 863.55,432.10 866.30,430.30 869.05,432.10 871.80,430.30 874.55,432.10 877.30,430.30 880.05,432.10 881.60,431.09" fill="none" stroke="#f01010" stroke-width="1.8"/>
<polyline points="904.45,430.30 907.20,432.10 909.95,430.30 912.70,432.10 915.45,430.30 918.20,432.10 920.95,430.30 923.70,432.10 926.45,430.30 929.20,432.10 931.95,430.30 934.70,432.10 937.45,430.30 940.20,432.10 942.95,430.30 945.70,432.10 948.45,430.30 951.20,432.10 953.95,430.30 956.70,432.10 959.45,430.30 962.20,432.10 964.95,430.30 967.70,432.10 970.45,430.30 973.20,432.10 975.95,430.30 978.70,432.10 981.45,430.30 984.20,432.10 986.95,430.30 989.70,432.10 992.45,430.30 995.20,432.10 997.95,430.30 1000.70,432.10 1003.45,430.30 1006.20,432.10 1008.95,430.30 1009.22,430.48" fill="none" stroke="#f01010" stroke-width="1.8"/>
<polyline points="40.81,607.05 43.56,608.85 46.31,607.05 49.06,608.85 51.81,607.05 54.56,608.85 57.31,607.05 60.06,608.85 62.81,607.05 65.56,608.85 68.31,607.05 71.06,608.85 73.81,607.05 76.56,608.85 79.31,607.05 82.06,608.85 84.81,607.05 87.56,608.85 90.31,607.05 93.06,608.85 95.81,607.05 98.56,608.85 101.31,607.05 104.06,608.85 106.81,607.05 109.56,608.85 112.31,607.05 114.19,608.28" fill="none" stroke="#2f6fe8" stroke-width="1.8"/>
<polyline points="165.02,607.05 167.77,608.85 170.52,607.05 173.27,608.85 176.02,607.05 178.77,608.85 181.52,607.05 184.27,608.85 187.02,607.05 189.77,608.85 192.52,607.05 195.27,608.85 198.02,607.05 200.77,608.85 203.52,607.05 206.27,608.85 209.02,607.05 211.77,608.85 214.52,607.05 217.27,608.85 220.02,607.05 222.77,608.85 225.52,607.05 228.27,608.85 231.02,607.05 233.77,608.85 236.52,607.05 238.39,608.28" fill="none" stroke="#2f6fe8" stroke-width="1.8"/>
<polyline points="288.52,607.05 291.27,608.85 294.02,607.05 296.77,608.85 299.52,607.05 302.27,608.85 305.02,607.05 307.77,608.85 310.52,607.05 313.27,608.85 316.02,607.05 318.77,608.85 321.52,607.05 324.27,608.85 327.02,607.05 329.77,608.85 332.52,607.05 335.27,608.85 338.02,607.05 340.77,608.85 343.52,607.05 346.27,608.85 349.02,607.05 351.77,608.85 354.52,607.05 357.27,608.85 360.02,607.05 361.89,608.28" fill="none" stroke="#2f6fe8" stroke-width="1.8"/>
<polyline points="413.52,607.05 416.27,608.85 419.02,607.05 421.77,608.85 424.52,607.05 427.27,608.85 430.02,607.05 432.77,608.85 435.52,607.05 438.27,608.85 441.02,607.05 443.77,608.85 446.52,607.05 449.27,608.85 452.02,607.05 454.77,608.85 457.52,607.05 460.27,608.85 463.02,607.05 465.77,608.85 468.52,607.05 471.27,608.85 474.02,607.05 476.77,608.85 479.52,607.05 482.27,608.85 485.02,607.05 486.89,608.28" fill="none" stroke="#2f6fe8" stroke-width="1.8"/>
<polyline points="537.52,607.05 540.27,608.85 543.02,607.05 545.77,608.85 548.52,607.05 551.27,608.85 554.02,607.05 556.77,608.85 559.52,607.05 562.27,608.85 565.02,607.05 567.77,608.85 570.52,607.05 573.27,608.85 576.02,607.05 578.77,608.85 581.52,607.05 584.27,608.85 587.02,607.05 589.77,608.85 592.52,607.05 595.27,608.85 598.02,607.05 600.77,608.85 603.52,607.05 606.27,608.85 609.02,607.05 610.89,608.28" fill="none" stroke="#2f6fe8" stroke-width="1.8"/>
<polyline points="783.80,607.05 786.55,608.85 789.30,607.05 792.05,608.85 794.80,607.05 797.55,608.85 800.30,607.05 803.05,608.85 805.80,607.05 808.55,608.85 811.30,607.05 814.05,608.85 816.80,607.05 819.55,608.85 822.30,607.05 825.05,608.85 827.80,607.05 830.55,608.85 833.30,607.05 836.05,608.85 838.80,607.05 841.55,608.85 844.30,607.05 847.05,608.85 849.80,607.05 852.55,608.85 855.30,607.05 858.05,608.85 860.80,607.05 863.55,608.85 866.30,607.05 869.05,608.85 871.80,607.05 874.55,608.85 877.30,607.05 880.05,608.85 881.60,607.84" fill="none" stroke="#f01010" stroke-width="1.8"/>
<polyline points="904.45,607.05 907.20,608.85 909.95,607.05 912.70,608.85 915.45,607.05 918.20,608.85 920.95,607.05 923.70,608.85 926.45,607.05 929.20,608.85 931.95,607.05 934.70,608.85 937.45,607.05 940.20,608.85 942.95,607.05 945.70,608.85 948.45,607.05 951.20,608.85 953.95,607.05 956.70,608.85 959.45,607.05 962.20,608.85 964.95,607.05 967.70,608.85 970.45,607.05 973.20,608.85 975.95,607.05 978.70,608.85 981.45,607.05 984.20,608.85 986.95,607.05 989.70,608.85 992.45,607.05 995.20,608.85 997.95,607.05 1000.70,608.85 1003.45,607.05 1006.20,608.85 1008.95,607.05 1009.22,607.23" fill="none" stroke="#f01010" stroke-width="1.8"/>
<polyline points="40.81,767.30 43.56,769.10 46.31,767.30 49.06,769.10 51.81,767.30 54.56,769.10 57.31,767.30 60.06,769.10 62.81,767.30 65.56,769.10 68.31,767.30 71.06,769.10 73.81,767.30 76.56,769.10 79.31,767.30 82.06,769.10 84.81,767.30 87.56,769.10 90.31,767.30 93.06,769.10 95.81,767.30 98.56,769.10 101.31,767.30 104.06,769.10 106.81,767.30 109.56,769.10 112.31,767.30 114.19,768.53" fill="none" stroke="#2f6fe8" stroke-width="1.8"/>
<polyline points="165.02,767.30 167.77,769.10 170.52,767.30 173.27,769.10 176.02,767.30 178.77,769.10 181.52,767.30 184.27,769.10 187.02,767.30 189.77,769.10 192.52,767.30 195.27,769.10 198.02,767.30 200.77,769.10 203.52,767.30 206.27,769.10 209.02,767.30 211.77,769.10 214.52,767.30 217.27,769.10 220.02,767.30 222.77,769.10 225.52,767.30 228.27,769.10 231.02,767.30 233.77,769.10 236.52,767.30 238.39,768.53" fill="none" stroke="#2f6fe8" stroke-width="1.8"/>
<polyline points="288.52,767.30 291.27,769.10 294.02,767.30 296.77,769.10 299.52,767.30 302.27,769.10 305.02,767.30 307.77,769.10 310.52,767.30 313.27,769.10 316.02,767.30 318.77,769.10 321.52,767.30 324.27,769.10 327.02,767.30 329.77,769.10 332.52,767.30 335.27,769.10 338.02,767.30 340.77,769.10 343.52,767.30 346.27,769.10 349.02,767.30 351.77,769.10 354.52,767.30 357.27,769.10 360.02,767.30 361.89,768.53" fill="none" stroke="#2f6fe8" stroke-width="1.8"/>
<polyline points="413.52,767.30 416.27,769.10 419.02,767.30 421.77,769.10 424.52,767.30 427.27,769.10 430.02,767.30 432.77,769.10 435.52,767.30 438.27,769.10 441.02,767.30 443.77,769.10 446.52,767.30 449.27,769.10 452.02,767.30 454.77,769.10 457.52,767.30 460.27,769.10 463.02,767.30 465.77,769.10 468.52,767.30 471.27,769.10 474.02,767.30 476.77,769.10 479.52,767.30 482.27,769.10 485.02,767.30 486.89,768.53" fill="none" stroke="#2f6fe8" stroke-width="1.8"/>
<polyline points="537.52,767.30 540.27,769.10 543.02,767.30 545.77,769.10 548.52,767.30 551.27,769.10 554.02,767.30 556.77,769.10 559.52,767.30 562.27,769.10 565.02,767.30 567.77,769.10 570.52,767.30 573.27,769.10 576.02,767.30 578.77,769.10 581.52,767.30 584.27,769.10 587.02,767.30 589.77,769.10 592.52,767.30 595.27,769.10 598.02,767.30 600.77,769.10 603.52,767.30 606.27,769.10 609.02,767.30 610.89,768.53" fill="none" stroke="#2f6fe8" stroke-width="1.8"/>
<polyline points="783.80,767.30 786.55,769.10 789.30,767.30 792.05,769.10 794.80,767.30 797.55,769.10 800.30,767.30 803.05,769.10 805.80,767.30 808.55,769.10 811.30,767.30 814.05,769.10 816.80,767.30 819.55,769.10 822.30,767.30 825.05,769.10 827.80,767.30 830.55,769.10 833.30,767.30 836.05,769.10 838.80,767.30 841.55,769.10 844.30,767.30 847.05,769.10 849.80,767.30 852.55,769.10 855.30,767.30 858.05,769.10 860.80,767.30 863.55,769.10 866.30,767.30 869.05,769.10 871.80,767.30 874.55,769.10 877.30,767.30 880.05,769.10 881.60,768.09" fill="none" stroke="#f01010" stroke-width="1.8"/>
<polyline points="904.45,767.30 907.20,769.10 909.95,767.30 912.70,769.10 915.45,767.30 918.20,769.10 920.95,767.30 923.70,769.10 926.45,767.30 929.20,769.10 931.95,767.30 934.70,769.10 937.45,767.30 940.20,769.10 942.95,767.30 945.70,769.10 948.45,767.30 951.20,769.10 953.95,767.30 956.70,769.10 959.45,767.30 962.20,769.10 964.95,767.30 967.70,769.10 970.45,767.30 973.20,769.10 975.95,767.30 978.70,769.10 981.45,767.30 984.20,769.10 986.95,767.30 989.70,769.10 992.45,767.30 995.20,769.10 997.95,767.30 1000.70,769.10 1003.45,767.30 1006.20,769.10 1008.95,767.30 1009.22,767.48" fill="none" stroke="#f01010" stroke-width="1.8"/>
<polyline points="40.81,947.05 43.56,948.85 46.31,947.05 49.06,948.85 51.81,947.05 54.56,948.85 57.31,947.05 60.06,948.85 62.81,947.05 65.56,948.85 68.31,947.05 71.06,948.85 73.81,947.05 76.56,948.85 79.31,947.05 82.06,948.85 84.81,947.05 87.56,948.85 90.31,947.05 93.06,948.85 95.81,947.05 98.56,948.85 101.31,947.05 104.06,948.85 106.81,947.05 109.56,948.85 112.31,947.05 114.19,948.28" fill="none" stroke="#2f6fe8" stroke-width="1.8"/>
<polyline points="165.02,947.05 167.77,948.85 170.52,947.05 173.27,948.85 176.02,947.05 178.77,948.85 181.52,947.05 184.27,948.85 187.02,947.05 189.77,948.85 192.52,947.05 195.27,948.85 198.02,947.05 200.77,948.85 203.52,947.05 206.27,948.85 209.02,947.05 211.77,948.85 214.52,947.05 217.27,948.85 220.02,947.05 222.77,948.85 225.52,947.05 228.27,948.85 231.02,947.05 233.77,948.85 236.52,947.05 238.39,948.28" fill="none" stroke="#2f6fe8" stroke-width="1.8"/>
<polyline points="288.52,947.05 291.27,948.85 294.02,947.05 296.77,948.85 299.52,947.05 302.27,948.85 305.02,947.05 307.77,948.85 310.52,947.05 313.27,948.85 316.02,947.05 318.77,948.85 321.52,947.05 324.27,948.85 327.02,947.05 329.77,948.85 332.52,947.05 335.27,948.85 338.02,947.05 340.77,948.85 343.52,947.05 346.27,948.85 349.02,947.05 351.77,948.85 354.52,947.05 357.27,948.85 360.02,947.05 361.89,948.28" fill="none" stroke="#2f6fe8" stroke-width="1.8"/>
<polyline points="413.52,947.05 416.27,948.85 419.02,947.05 421.77,948.85 424.52,947.05 427.27,948.85 430.02,947.05 432.77,948.85 435.52,947.05 438.27,948.85 441.02,947.05 443.77,948.85 446.52,947.05 449.27,948.85 452.02,947.05 454.77,948.85 457.52,947.05 460.27,948.85 463.02,947.05 465.77,948.85 468.52,947.05 471.27,948.85 474.02,947.05 476.77,948.85 479.52,947.05 482.27,948.85 485.02,947.05 486.89,948.28" fill="none" stroke="#2f6fe8" stroke-width="1.8"/>
<polyline points="537.52,947.05 540.27,948.85 543.02,947.05 545.77,948.85 548.52,947.05 551.27,948.85 554.02,947.05 556.77,948.85 559.52,947.05 562.27,948.85 565.02,947.05 567.77,948.85 570.52,947.05 573.27,948.85 576.02,947.05 578.77,948.85 581.52,947.05 584.27,948.85 587.02,947.05 589.77,948.85 592.52,947.05 595.27,948.85 598.02,947.05 600.77,948.85 603.52,947.05 606.27,948.85 609.02,947.05 610.89,948.28" fill="none" stroke="#2f6fe8" stroke-width="1.8"/>
<polyline points="93.00,150.30 96.00,152.70 99.00,150.30 102.00,152.70 105.00,150.30 108.00,152.70 111.00,150.30 114.00,152.70 117.00,150.30 120.00,152.70 123.00,150.30 126.00,152.70 129.00,150.30 132.00,152.70 135.00,150.30 138.00,152.70 141.00,150.30 144.00,152.70 147.00,150.30 150.00,152.70 153.00,150.30 156.00,152.70 159.00,150.30 162.00,152.70 165.00,150.30 168.00,152.70 171.00,150.30 174.00,152.70 177.00,150.30 180.00,152.70 183.00,150.30 186.00,152.70 189.00,150.30 190.39,151.41" fill="none" stroke="#f01010" stroke-width="1.8"/>
<polyline points="187.59,150.30 190.59,152.70 193.59,150.30 196.59,152.70 199.59,150.30 202.59,152.70 205.59,150.30 208.59,152.70 211.59,150.30 214.59,152.70 217.27,150.56" fill="none" stroke="#2f6fe8" stroke-width="1.8"/>
<polyline points="308.20,150.30 311.20,152.70 314.20,150.30 317.20,152.70 320.20,150.30 323.20,152.70 326.20,150.30 329.20,152.70 332.20,150.30 335.20,152.70 338.20,150.30 341.20,152.70 344.20,150.30 347.20,152.70 350.20,150.30 353.20,152.70 356.20,150.30 359.20,152.70 362.20,150.30 365.20,152.70 368.20,150.30 371.20,152.70 374.20,150.30 377.20,152.70 380.20,150.30 383.20,152.70 386.20,150.30 389.20,152.70 392.20,150.30 395.20,152.70 398.20,150.30 401.20,152.70 404.20,150.30 407.20,152.70 410.20,150.30 412.13,151.84" fill="none" stroke="#f01010" stroke-width="1.8"/>
<polyline points="800.69,178.60 803.69,181.00 806.69,178.60 809.69,181.00 812.69,178.60 815.69,181.00 818.69,178.60 821.69,181.00 824.69,178.60 827.69,181.00 830.69,178.60 833.69,181.00 836.69,178.60 839.69,181.00 842.69,178.60 845.69,181.00 848.69,178.60 851.69,181.00 854.69,178.60 857.69,181.00 860.69,178.60 863.69,181.00 866.69,178.60 869.69,181.00 872.69,178.60 875.69,181.00 878.69,178.60 881.69,181.00 884.69,178.60 887.69,181.00 890.69,178.60 893.69,181.00 896.69,178.60 898.17,179.79" fill="none" stroke="#f01010" stroke-width="1.8"/>
<polyline points="93.00,325.80 96.00,328.20 99.00,325.80 102.00,328.20 105.00,325.80 108.00,328.20 111.00,325.80 114.00,328.20 117.00,325.80 120.00,328.20 123.00,325.80 126.00,328.20 129.00,325.80 132.00,328.20 135.00,325.80 138.00,328.20 141.00,325.80 144.00,328.20 147.00,325.80 150.00,328.20 153.00,325.80 156.00,328.20 159.00,325.80 162.00,328.20 165.00,325.80 168.00,328.20 171.00,325.80 174.00,328.20 177.00,325.80 180.00,328.20 183.00,325.80 186.00,328.20 189.00,325.80 190.39,326.92" fill="none" stroke="#f01010" stroke-width="1.8"/>
<polyline points="187.59,325.80 190.59,328.20 193.59,325.80 196.59,328.20 199.59,325.80 202.59,328.20 205.59,325.80 208.59,328.20 211.59,325.80 214.59,328.20 217.27,326.06" fill="none" stroke="#2f6fe8" stroke-width="1.8"/>
<polyline points="308.20,325.80 311.20,328.20 314.20,325.80 317.20,328.20 320.20,325.80 323.20,328.20 326.20,325.80 329.20,328.20 332.20,325.80 335.20,328.20 338.20,325.80 341.20,328.20 344.20,325.80 347.20,328.20 350.20,325.80 353.20,328.20 356.20,325.80 359.20,328.20 362.20,325.80 365.20,328.20 368.20,325.80 371.20,328.20 374.20,325.80 377.20,328.20 380.20,325.80 383.20,328.20 386.20,325.80 389.20,328.20 392.20,325.80 395.20,328.20 398.20,325.80 401.20,328.20 404.20,325.80 407.20,328.20 410.20,325.80 412.13,327.34" fill="none" stroke="#f01010" stroke-width="1.8"/>
<polyline points="334.09,355.40 337.09,357.80 340.09,355.40 343.09,357.80 346.09,355.40 349.09,357.80 352.09,355.40 355.09,357.80 358.09,355.40 361.09,357.80 364.09,355.40 367.09,357.80 370.09,355.40 373.09,357.80 376.09,355.40 379.09,357.80 382.09,355.40 385.09,357.80 388.09,355.40 391.09,357.80 394.09,355.40 397.09,357.80 400.09,355.40 403.09,357.80 406.09,355.40 409.09,357.80 412.09,355.40 415.09,357.80 418.09,355.40 421.09,357.80 424.09,355.40 427.09,357.80 430.09,355.40 431.58,356.59" fill="none" stroke="#f01010" stroke-width="1.8"/>
<polyline points="93.00,502.30 96.00,504.70 99.00,502.30 102.00,504.70 105.00,502.30 108.00,504.70 111.00,502.30 114.00,504.70 117.00,502.30 120.00,504.70 123.00,502.30 126.00,504.70 129.00,502.30 132.00,504.70 135.00,502.30 138.00,504.70 141.00,502.30 144.00,504.70 147.00,502.30 150.00,504.70 153.00,502.30 156.00,504.70 159.00,502.30 162.00,504.70 165.00,502.30 168.00,504.70 171.00,502.30 174.00,504.70 177.00,502.30 180.00,504.70 183.00,502.30 186.00,504.70 189.00,502.30 190.39,503.42" fill="none" stroke="#f01010" stroke-width="1.8"/>
<polyline points="187.59,502.30 190.59,504.70 193.59,502.30 196.59,504.70 199.59,502.30 202.59,504.70 205.59,502.30 208.59,504.70 211.59,502.30 214.59,504.70 217.27,502.56" fill="none" stroke="#2f6fe8" stroke-width="1.8"/>
<polyline points="308.20,502.30 311.20,504.70 314.20,502.30 317.20,504.70 320.20,502.30 323.20,504.70 326.20,502.30 329.20,504.70 332.20,502.30 335.20,504.70 338.20,502.30 341.20,504.70 344.20,502.30 347.20,504.70 350.20,502.30 353.20,504.70 356.20,502.30 359.20,504.70 362.20,502.30 365.20,504.70 368.20,502.30 371.20,504.70 374.20,502.30 377.20,504.70 380.20,502.30 383.20,504.70 386.20,502.30 389.20,504.70 392.20,502.30 395.20,504.70 398.20,502.30 401.20,504.70 404.20,502.30 407.20,504.70 410.20,502.30 412.13,503.84" fill="none" stroke="#f01010" stroke-width="1.8"/>
<polyline points="800.69,530.80 803.69,533.20 806.69,530.80 809.69,533.20 812.69,530.80 815.69,533.20 818.69,530.80 821.69,533.20 824.69,530.80 827.69,533.20 830.69,530.80 833.69,533.20 836.69,530.80 839.69,533.20 842.69,530.80 845.69,533.20 848.69,530.80 851.69,533.20 854.69,530.80 857.69,533.20 860.69,530.80 863.69,533.20 866.69,530.80 869.69,533.20 872.69,530.80 875.69,533.20 878.69,530.80 881.69,533.20 884.69,530.80 887.69,533.20 890.69,530.80 893.69,533.20 896.69,530.80 898.17,531.99" fill="none" stroke="#f01010" stroke-width="1.8"/>
<polyline points="93.00,679.00 96.00,681.40 99.00,679.00 102.00,681.40 105.00,679.00 108.00,681.40 111.00,679.00 114.00,681.40 117.00,679.00 120.00,681.40 123.00,679.00 126.00,681.40 129.00,679.00 132.00,681.40 135.00,679.00 138.00,681.40 141.00,679.00 144.00,681.40 147.00,679.00 150.00,681.40 153.00,679.00 156.00,681.40 159.00,679.00 162.00,681.40 165.00,679.00 168.00,681.40 171.00,679.00 174.00,681.40 177.00,679.00 180.00,681.40 183.00,679.00 186.00,681.40 189.00,679.00 190.39,680.12" fill="none" stroke="#f01010" stroke-width="1.8"/>
<polyline points="187.59,679.00 190.59,681.40 193.59,679.00 196.59,681.40 199.59,679.00 202.59,681.40 205.59,679.00 208.59,681.40 211.59,679.00 214.59,681.40 217.27,679.26" fill="none" stroke="#2f6fe8" stroke-width="1.8"/>
<polyline points="308.20,679.00 311.20,681.40 314.20,679.00 317.20,681.40 320.20,679.00 323.20,681.40 326.20,679.00 329.20,681.40 332.20,679.00 335.20,681.40 338.20,679.00 341.20,681.40 344.20,679.00 347.20,681.40 350.20,679.00 353.20,681.40 356.20,679.00 359.20,681.40 362.20,679.00 365.20,681.40 368.20,679.00 371.20,681.40 374.20,679.00 377.20,681.40 380.20,679.00 383.20,681.40 386.20,679.00 389.20,681.40 392.20,679.00 395.20,681.40 398.20,679.00 401.20,681.40 404.20,679.00 407.20,681.40 410.20,679.00 412.13,680.54" fill="none" stroke="#f01010" stroke-width="1.8"/>
<polyline points="800.69,707.40 803.69,709.80 806.69,707.40 809.69,709.80 812.69,707.40 815.69,709.80 818.69,707.40 821.69,709.80 824.69,707.40 827.69,709.80 830.69,707.40 833.69,709.80 836.69,707.40 839.69,709.80 842.69,707.40 845.69,709.80 848.69,707.40 851.69,709.80 854.69,707.40 857.69,709.80 860.69,707.40 863.69,709.80 866.69,707.40 869.69,709.80 872.69,707.40 875.69,709.80 878.69,707.40 881.69,709.80 884.69,707.40 887.69,709.80 890.69,707.40 893.69,709.80 896.69,707.40 898.17,708.59" fill="none" stroke="#f01010" stroke-width="1.8"/>
<polyline points="93.00,839.15 96.00,841.55 99.00,839.15 102.00,841.55 105.00,839.15 108.00,841.55 111.00,839.15 114.00,841.55 117.00,839.15 120.00,841.55 123.00,839.15 126.00,841.55 129.00,839.15 132.00,841.55 135.00,839.15 138.00,841.55 141.00,839.15 144.00,841.55 147.00,839.15 150.00,841.55 153.00,839.15 156.00,841.55 159.00,839.15 162.00,841.55 165.00,839.15 168.00,841.55 171.00,839.15 174.00,841.55 177.00,839.15 180.00,841.55 183.00,839.15 186.00,841.55 189.00,839.15 190.39,840.27" fill="none" stroke="#f01010" stroke-width="1.8"/>
<polyline points="187.59,839.15 190.59,841.55 193.59,839.15 196.59,841.55 199.59,839.15 202.59,841.55 205.59,839.15 208.59,841.55 211.59,839.15 214.59,841.55 217.27,839.41" fill="none" stroke="#2f6fe8" stroke-width="1.8"/>
<polyline points="308.20,839.15 311.20,841.55 314.20,839.15 317.20,841.55 320.20,839.15 323.20,841.55 326.20,839.15 329.20,841.55 332.20,839.15 335.20,841.55 338.20,839.15 341.20,841.55 344.20,839.15 347.20,841.55 350.20,839.15 353.20,841.55 356.20,839.15 359.20,841.55 362.20,839.15 365.20,841.55 368.20,839.15 371.20,841.55 374.20,839.15 377.20,841.55 380.20,839.15 383.20,841.55 386.20,839.15 389.20,841.55 392.20,839.15 395.20,841.55 398.20,839.15 401.20,841.55 404.20,839.15 407.20,841.55 410.20,839.15 412.13,840.69" fill="none" stroke="#f01010" stroke-width="1.8"/>
<polyline points="800.69,867.80 803.69,870.20 806.69,867.80 809.69,870.20 812.69,867.80 815.69,870.20 818.69,867.80 821.69,870.20 824.69,867.80 827.69,870.20 830.69,867.80 833.69,870.20 836.69,867.80 839.69,870.20 842.69,867.80 845.69,870.20 848.69,867.80 851.69,870.20 854.69,867.80 857.69,870.20 860.69,867.80 863.69,870.20 866.69,867.80 869.69,870.20 872.69,867.80 875.69,870.20 878.69,867.80 881.69,870.20 884.69,867.80 887.69,870.20 890.69,867.80 893.69,870.20 896.69,867.80 898.17,868.99" fill="none" stroke="#f01010" stroke-width="1.8"/>
</svg>
</div>
<script>
(function(){
  var ds=document.querySelectorAll('div.t');
  for(var i=0;i<ds.length;i++){
    var e=ds[i], w=parseFloat(getComputedStyle(e).getPropertyValue('--w'));
    if(!w) continue;
    var r=document.createRange(); r.selectNodeContents(e);
    var cw=r.getBoundingClientRect().width, n=e.textContent.length;
    if(n && Math.abs(cw-w)>1.5){
      var ls=parseFloat(getComputedStyle(e).letterSpacing)||0;
      e.style.letterSpacing=(ls+(w-cw)/n)+'px';
    }
  }
})();
</script>
</body></html>
